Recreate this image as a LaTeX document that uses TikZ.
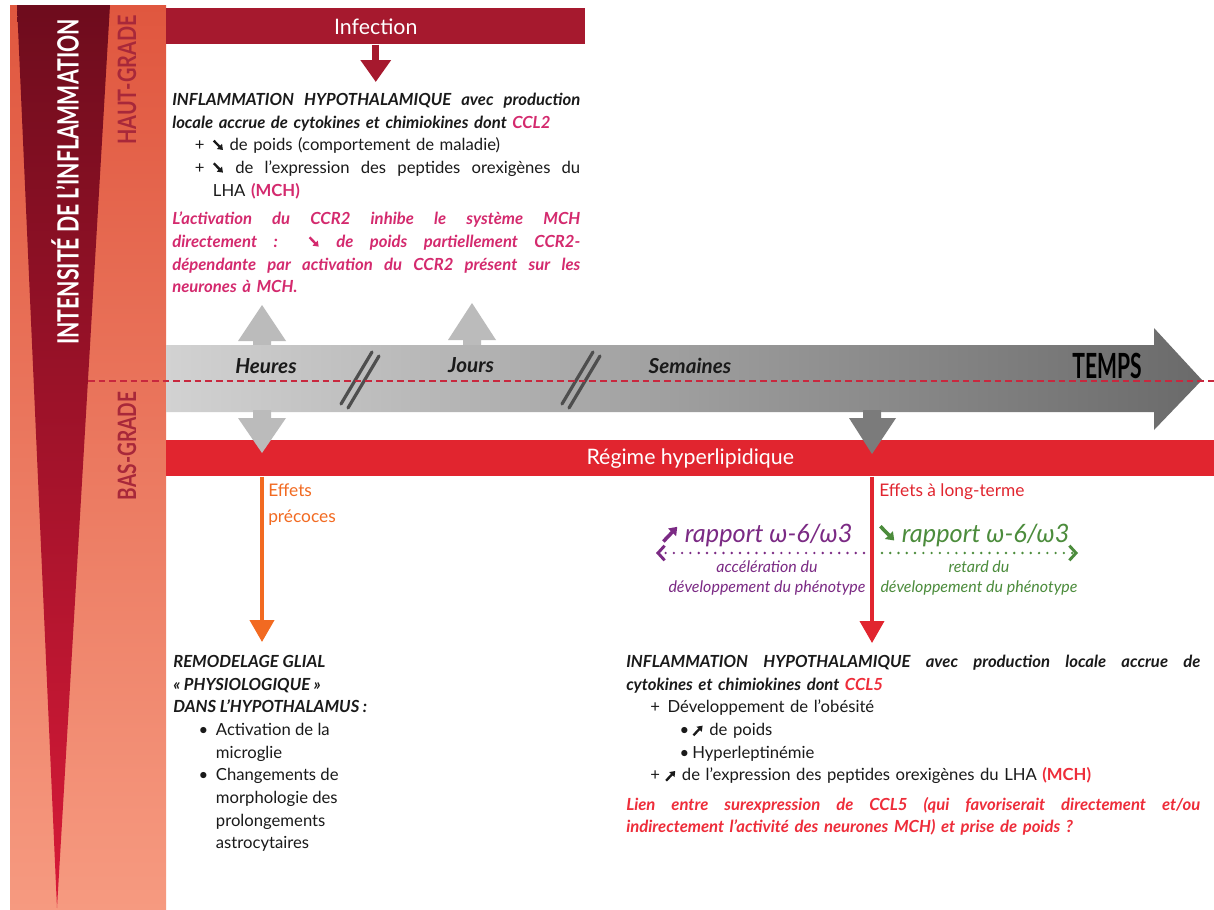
\documentclass[tikz,border=0pt]{standalone}
\usepackage{fontspec}
\usepackage{graphicx}
\setmainfont{Lato}
\usetikzlibrary{arrows.meta}
\definecolor{barTop}{HTML}{E0573F}
\definecolor{barBot}{HTML}{F69A80}
\definecolor{triTop}{HTML}{6E0C1D}
\definecolor{triBot}{HTML}{D81A38}
\definecolor{gradeCol}{HTML}{A8283A}
\definecolor{infCol}{HTML}{A6192E}
\definecolor{regCol}{HTML}{E1252F}
\definecolor{oraCol}{HTML}{F26A21}
\definecolor{pinkCol}{HTML}{D42A6E}
\definecolor{redTxt}{HTML}{EE2D3A}
\definecolor{purCol}{HTML}{7B2A84}
\definecolor{grnCol}{HTML}{4C8C3C}
\definecolor{greyL}{HTML}{BBBBBB}
\definecolor{greyD}{HTML}{7B7B7B}
\definecolor{arrL}{HTML}{D2D2D2}
\definecolor{arrR}{HTML}{6A6A6A}
\definecolor{slashCol}{HTML}{4E4E4E}
\definecolor{dashCol}{HTML}{C8283E}
\definecolor{txtCol}{HTML}{1A1A1A}
\newcommand\dnar{\tikz[baseline=0pt]\draw[line width=0.14em,-{Triangle[length=0.3em,width=0.42em]}] (0,0.62em) -- (0.55em,0.06em);}
\newcommand\upar{\tikz[baseline=0pt]\draw[line width=0.14em,-{Triangle[length=0.3em,width=0.42em]}] (0,0.02em) -- (0.55em,0.6em);}
\newcommand\condtxt[2]{\resizebox{#1}{\height}{\bfseries #2}}
\newcommand\bi{\bfseries\itshape}
\newcommand\jline[2]{\makebox[#1][s]{\spaceskip=0pt\xspaceskip=0pt #2}}
\tikzset{
  body/.style={inner sep=0pt, anchor=north west, align=left, text=txtCol,
    font=\fontsize{12.5pt}{17pt}\selectfont},
  bartext/.style={text=white, font=\fontsize{16pt}{18pt}\selectfont},
  tlabel/.style={text=txtCol, font=\fontsize{15.5pt}{17pt}\selectfont\bfseries\itshape},
  gradetxt/.style={text=gradeCol, rotate=90, inner sep=0pt},
  effet/.style={inner sep=0pt, anchor=north west, align=left, font=\fontsize{13pt}{19.5pt}\selectfont},
  ratio/.style={font=\fontsize{19pt}{20pt}\selectfont\itshape, inner sep=0pt},
  small/.style={font=\fontsize{12pt}{15pt}\selectfont\itshape, align=center, inner sep=0pt},
  dotarrow/.style={line width=2pt, line cap=round, dash pattern=on 0pt off 6.2pt,
    -{Straight Barb[length=5pt,width=11pt,line width=2.2pt]}},
}
\begin{document}
\begin{tikzpicture}[x=0.75pt,y=-0.75pt]
\useasboundingbox (0,0) rectangle (1214,910);
\fill[white] (0,0) rectangle (1214,910);
% left bar
\shade[top color=barTop, bottom color=barBot] (10,5) rectangle (166,910);
\shade[top color=triTop, bottom color=triBot] (17,5) -- (110,5) -- (57,908) -- cycle;
\node[rotate=90, text=white, inner sep=0pt] (intens) at (65,182)
  {\fontsize{22pt}{24pt}\selectfont\condtxt{244pt}{INTENSITÉ DE L’INFLAMMATION}};
\node[gradetxt] (haut) at (127,80)
  {\fontsize{19pt}{20pt}\selectfont\condtxt{97pt}{HAUT-GRADE}};
\node[gradetxt] (bas) at (127,446)
  {\fontsize{19pt}{20pt}\selectfont\condtxt{81pt}{BAS-GRADE}};

% infection bar and arrow
\node[fill=infCol, minimum width=314.25pt, minimum height=27pt, inner sep=0pt,
  anchor=north west, bartext] (inf) at (166,8) {Infection};

% top text
\node[body, text width=306pt] (topTxt) at (172,93) {%
{\bi\jline{306pt}{INFLAMMATION HYPOTHALAMIQUE avec production}}\\
{\bi locale accrue de cytokines et chimiokines dont \textcolor{pinkCol}{CCL2}}\\
\hspace*{17pt}+\hspace*{6pt}\dnar\ de poids (comportement de maladie)\\
\hspace*{17pt}\jline{289pt}{+\hspace*{6pt}\dnar\ de l’expression des peptides orexigènes du}\\
\hspace*{30.5pt}LHA {\bfseries\textcolor{pinkCol}{(MCH)}}\\[4.5pt]
\color{pinkCol}\bi
\jline{306pt}{L’activation du CCR2 inhibe le système MCH}\\
\jline{306pt}{directement : \dnar\ de poids partiellement CCR2-}\\
\jline{306pt}{dépendante par activation du CCR2 présent sur les}\\
neurones à MCH.};
\draw[infCol, line width=5pt, -{Triangle[width=22pt,length=16.5pt]}]
  (inf.south) -- (inf.south |- 0,82);

% grey up arrows
\fill[greyL] (253,348) -- (253,341) -- (238,341) -- (262,305) -- (286,341) -- (271,341) -- (271,348) -- cycle;
\fill[greyL] (463,348) -- (463,340) -- (448,340) -- (472,303) -- (496,340) -- (481,340) -- (481,348) -- cycle;

% time arrow
\shade[left color=arrL, right color=arrR]
  (166,345) -- (1154,345) -- (1154,328) -- (1202,380) -- (1154,430) -- (1154,412) -- (166,412) -- cycle;
\foreach \a/\b in {341/348, 562/569}{
  \draw[slashCol, line width=2.4pt, line cap=round] (\a,404) -- ++(31,-52);
  \draw[slashCol, line width=2.4pt, line cap=round] (\b,408) -- ++(31,-52);
}
\node[tlabel] (heures) at (266,366) {Heures};
\node[tlabel] (jours) at (471,365) {Jours};
\node[tlabel] (semaines) at (690,366) {Semaines};
\node[text=black, inner sep=0pt] (temps) at (1107,366)
  {\fontsize{26pt}{28pt}\selectfont\condtxt{52pt}{TEMPS}};
\draw[dashCol, line width=1.6pt, dash pattern=on 5pt off 3pt] (88,381) -- (1214,381);

% regime bar
\node[fill=regCol, minimum width=786pt, minimum height=27pt, inner sep=0pt,
  anchor=north west, bartext] (reg) at (166,440) {Régime hyperlipidique};

% grey down arrows
\fill[greyL] (253,410) -- (253,418) -- (238,418) -- (262,453) -- (286,418) -- (271,418) -- (271,410) -- cycle;
\fill[greyD] (863,410) -- (863,418) -- (849,418) -- (872,454) -- (896,418) -- (881,418) -- (881,410) -- cycle;

% early effects
\coordinate (orTip) at (262,642);
\draw[oraCol, line width=3pt, -{Triangle[width=18pt,length=16.5pt]}] (reg.south -| orTip) -- (orTip);
\node[effet, text=oraCol] (effP) at (268,484) {Effets\\précoces};

% long-term effects
\coordinate (rdTip) at (872,643);
\draw[regCol, line width=2.8pt, -{Triangle[width=18pt,length=16.5pt]}] (reg.south -| rdTip) -- (rdTip);
\node[effet, text=regCol] (effL) at (879,483) {Effets à long-terme};

% omega ratios
\coordinate (pStart) at (864,553);
\coordinate (pEnd) at (656,553);
\coordinate (gStart) at (882,553);
\coordinate (gEnd) at (1078,553);
\draw[purCol, dotarrow] (pStart) -- (pEnd);
\draw[grnCol, dotarrow] (gStart) -- (gEnd);
\node[ratio, text=purCol] (pRat) at (757,535) {\upar\ rapport ω-6/ω3};
\node[ratio, text=grnCol] (gRat) at (974,535) {\dnar\ rapport ω-6/ω3};
\node[small, text=purCol] (pSub) at (767,578) {accélération du\\développement du phénotype};
\node[small, text=grnCol] (gSub) at (979,578) {retard du\\développement du phénotype};

% bottom left text
\node[body] (blTxt) at (173,655) {%
{\bi REMODELAGE GLIAL}\\
{\bi « PHYSIOLOGIQUE »}\\
{\bi DANS L’HYPOTHALAMUS :}\\
\makebox[32pt][l]{\hspace*{19pt}•}Activation de la\\
\hspace*{32pt}microglie\\
\makebox[32pt][l]{\hspace*{19pt}•}Changements de\\
\hspace*{32pt}morphologie des\\
\hspace*{32pt}prolongements\\
\hspace*{32pt}astrocytaires};

% bottom right text
\node[body, text width=430.5pt] (brTxt) at (626,655) {%
{\bi\jline{430.5pt}{INFLAMMATION HYPOTHALAMIQUE avec production locale accrue de}}\\
{\bi cytokines et chimiokines dont \textcolor{redTxt}{CCL5}}\\
\makebox[31pt][l]{\hspace*{18pt}+}Développement de l’obésité\\
\makebox[49.5pt][l]{\hspace*{40pt}•}\upar\ de poids\\
\makebox[49.5pt][l]{\hspace*{40pt}•}Hyperleptinémie\\
\makebox[29pt][l]{\hspace*{18pt}+}\upar\ de l’expression des peptides orexigènes du LHA {\bfseries\textcolor{redTxt}{(MCH)}}\\[5pt]
\color{redTxt}\bi
\jline{430.5pt}{Lien entre surexpression de CCL5 (qui favoriserait directement et/ou}\\
indirectement l’activité des neurones MCH) et prise de poids ?};
\end{tikzpicture}
\end{document}
